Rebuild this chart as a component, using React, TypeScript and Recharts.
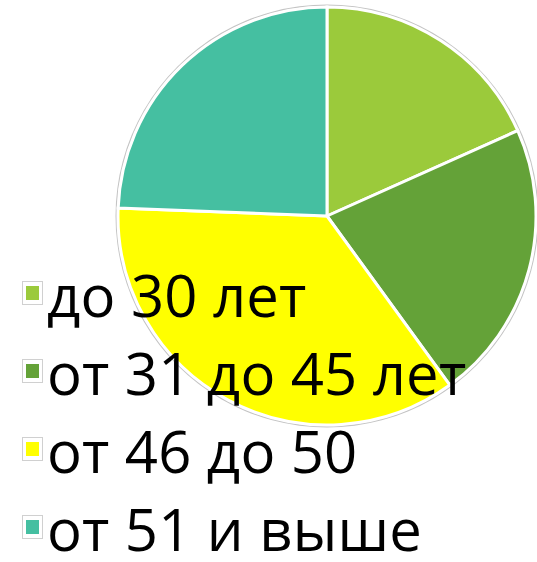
import { PieChart, Pie, Cell, Legend } from 'recharts';

const categories = ['до 30 лет', 'от 31 до 45 лет', 'от 46 до 50', 'от 51 и выше'];
const shares = [18.3, 21.7, 35.6, 24.4];
const colors = ['#9bca3b', '#64a238', '#ffff00', '#45bfa1'];

const data = categories.map((name, i) => ({ name, value: shares[i] }));
const ring = [{ name: 'ring', value: 1 }];

function AgeLegend() {
  return (
    <div style={{ fontFamily: '"Open Sans", sans-serif', fontSize: 58, color: '#000' }}>
      {categories.map((name, i) => (
        <div key={name} style={{ display: 'flex', alignItems: 'center', height: 78, whiteSpace: 'nowrap' }}>
          <div
            style={{
              width: 21,
              height: 24,
              marginLeft: 22,
              marginRight: 4,
              border: '1px solid #d0d0d0',
              background: '#fff',
              display: 'flex',
              alignItems: 'center',
              justifyContent: 'center',
              boxSizing: 'border-box',
            }}
          >
            <div style={{ width: 13, height: 14, background: colors[i] }} />
          </div>
          <span style={{ lineHeight: '50px', marginTop: 4, letterSpacing: 0.2 }}>{name}</span>
        </div>
      ))}
    </div>
  );
}

export default function App() {
  return (
    <div>
      <style>{'body{margin:0}'}</style>
      <PieChart width={537} height={562} margin={{ top: 0, right: 0, bottom: 0, left: 0 }}>
        <Pie
          data={ring}
          dataKey="value"
          cx={327}
          cy={216}
          innerRadius={210}
          outerRadius={211.5}
          startAngle={90}
          endAngle={-270}
          fill="#c4c4c4"
          stroke="none"
          isAnimationActive={false}
        />
        <Pie
          data={data}
          dataKey="value"
          nameKey="name"
          cx={327}
          cy={216}
          outerRadius={209}
          startAngle={90}
          endAngle={-270}
          stroke="#ffffff"
          strokeWidth={3}
          isAnimationActive={false}
        >
          {data.map((d, i) => (
            <Cell key={d.name} fill={colors[i]} />
          ))}
        </Pie>
        <Legend
          layout="vertical"
          align="center"
          verticalAlign="middle"
          content={() => <AgeLegend />}
          wrapperStyle={{ left: 0, top: 254, width: 537, height: 308 }}
        />
      </PieChart>
    </div>
  );
}
